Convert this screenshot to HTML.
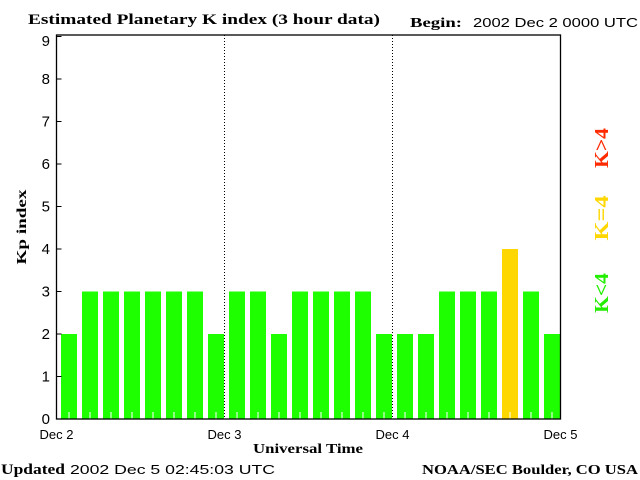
<!DOCTYPE html>
<html><head><meta charset="utf-8"><style>
body{margin:0;background:#fff;}
svg{display:block;}
text{font-family:"Liberation Sans",sans-serif;}
.serif{font-family:"Liberation Serif",serif;font-weight:bold;}
</style></head><body>
<svg id="chart" width="640" height="480">
<text class="serif" x="28" y="24" font-size="15" textLength="352" lengthAdjust="spacingAndGlyphs">Estimated Planetary K index (3 hour data)</text>
<text class="serif" x="410" y="27" font-size="14" textLength="52" lengthAdjust="spacingAndGlyphs">Begin:</text>
<text x="473" y="27" font-size="13" textLength="165" lengthAdjust="spacingAndGlyphs">2002 Dec 2 0000 UTC</text>
<g id="bars"></g>
<g id="axes"></g>
<text class="serif" transform="translate(26,227) rotate(-90)" text-anchor="middle" font-size="14" textLength="75" lengthAdjust="spacingAndGlyphs">Kp index</text>
<text class="serif" x="308" y="453" text-anchor="middle" font-size="14" textLength="110" lengthAdjust="spacingAndGlyphs">Universal Time</text>
<text class="serif" x="1" y="474" font-size="15" textLength="64" lengthAdjust="spacingAndGlyphs">Updated</text>
<text x="70" y="474" font-size="13" textLength="205" lengthAdjust="spacingAndGlyphs">2002 Dec  5 02:45:03 UTC</text>
<text class="serif" x="638" y="474" text-anchor="end" font-size="14" textLength="216" lengthAdjust="spacingAndGlyphs">NOAA/SEC Boulder, CO USA</text>
<text class="serif" transform="translate(608,148) rotate(-90)" text-anchor="middle" font-size="20" textLength="40" lengthAdjust="spacingAndGlyphs" fill="#ff2a00">K&gt;4</text>
<text class="serif" transform="translate(608,218) rotate(-90)" text-anchor="middle" font-size="20" textLength="45" lengthAdjust="spacingAndGlyphs" fill="#ffd700">K=4</text>
<text class="serif" transform="translate(608,293) rotate(-90)" text-anchor="middle" font-size="20" textLength="40" lengthAdjust="spacingAndGlyphs" fill="#22ee00">K&lt;4</text>
</svg>
<script>
const dayLabels=["Dec 2","Dec 3","Dec 4","Dec 5"];
const yTicks=[0,1,2,3,4,5,6,7,8,9];
const kpValues=[2,3,3,3,3,3,3,2, 3,3,2,3,3,3,3,2, 2,2,3,3,3,4,3,2];
const NS="http://www.w3.org/2000/svg";
const X0=56.5,X1=560.5,Y0=419,YT=35;
const slot=(X1-X0)/kpValues.length;
const xs=i=>X0+i*slot;
const ys=v=>Y0-v*42.5;
function mk(tag,attrs,parent){const e=document.createElementNS(NS,tag);for(const k in attrs)e.setAttribute(k,attrs[k]);parent.appendChild(e);return e;}
const bars=document.getElementById('bars'),axes=document.getElementById('axes');
kpValues.forEach((v,i)=>{
  const col=v>4?"#ff2a00":(v===4?"#ffd700":"#1eff00");
  const r=mk('rect',{x:xs(i)+4.5,y:ys(v),width:16,height:Y0-ys(v),fill:col},bars);
  
  
  const t=mk('line',{x1:xs(i)+12.5,x2:xs(i)+12.5,y1:Y0-7,y2:Y0,stroke:"#fff","stroke-width":1},bars);
  
  
});
const nd=dayLabels.length-1;
dayLabels.forEach((d,i)=>{
  const x=X0+i*(X1-X0)/nd;
  if(i>0&&i<nd){const l=mk('line',{x1:x,x2:x,y1:YT,y2:Y0,stroke:"#000","stroke-dasharray":"1,2"},axes);
    
    }
  const t=mk('text',{x:x,y:439,"text-anchor":"middle","font-size":"13"},axes);t.textContent=d;
  
  
});
yTicks.forEach(v=>{
  const y=ys(v);
  const l=mk('line',{x1:X0,x2:X0+5,y1:y,y2:y,stroke:"#000"},axes);
  
  
  const t=mk('text',{x:50,y:Math.max(y+5,46),"text-anchor":"end","font-size":"15"},axes);t.textContent=v;
  
  
});
const f=mk('rect',{x:X0,y:YT,width:X1-X0,height:Y0-YT,fill:"none",stroke:"#000","stroke-width":1.3},axes);


</script>
</body></html>
